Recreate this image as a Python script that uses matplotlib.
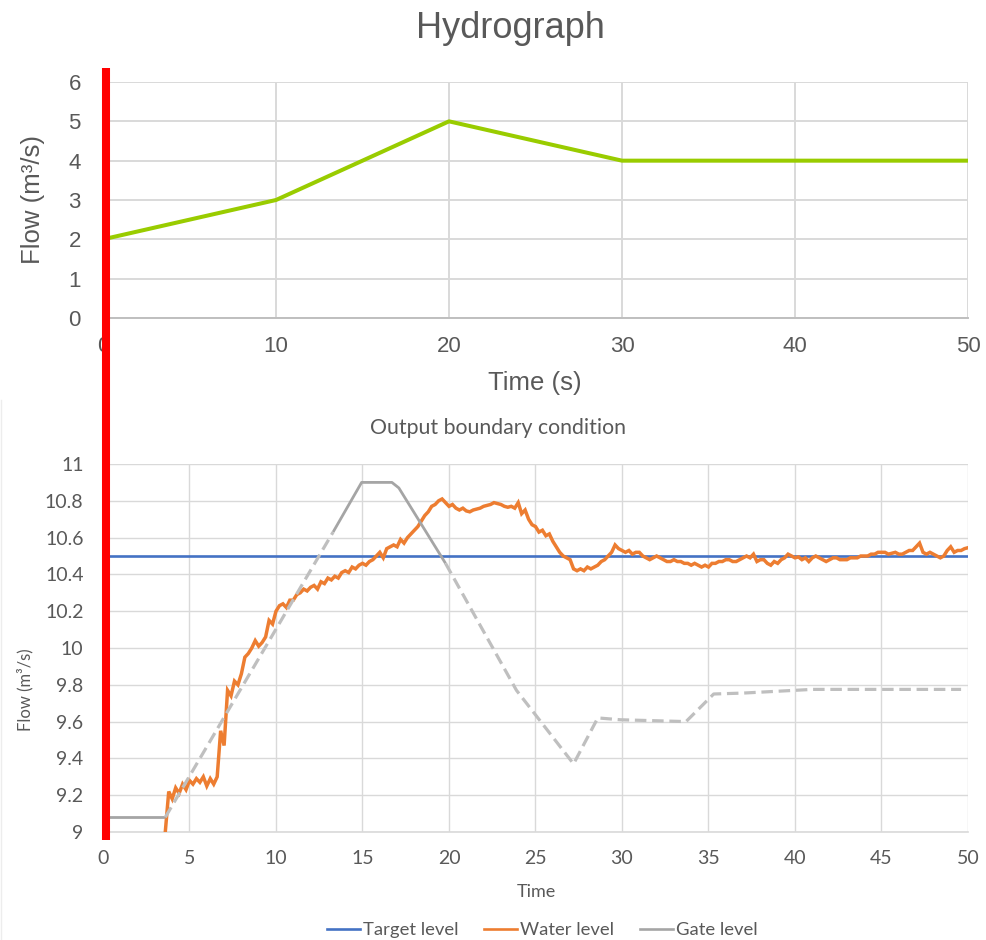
import numpy as np
import matplotlib
matplotlib.use("Agg")
import matplotlib.pyplot as plt
from matplotlib.lines import Line2D

# ---------------- data ----------------
# Hydrograph (top)
hydro_time = [0, 10, 20, 30, 40, 50]
hydro_flow = [2, 3, 5, 4, 4, 4]
top_xticks = [0, 10, 20, 30, 40, 50]
top_yticks = [0, 1, 2, 3, 4, 5, 6]

# Output boundary condition (bottom)
target_time = [0, 50]
target_level = [10.5, 10.5]

gate_time = [0, 3.6, 13.3, 14.95, 16.7, 17.1, 19.8, 23.9, 27.2, 28.6, 29.9,
             33.7, 35.3, 37.0, 41.0, 49.6]
gate_level = [9.08, 9.08, 10.63, 10.90, 10.90, 10.87, 10.46, 9.77, 9.37, 9.62,
              9.61, 9.60, 9.75, 9.755, 9.775, 9.775]
# segment styles of the gate series (index ranges): solid / dashed
gate_solid_segments = [(0, 1), (2, 6)]
gate_dashed_segments = [(1, 2), (6, 15)]

water_start = 3.6
water_step = 0.2
water_level = [
    9.00, 9.22,
    9.18, 9.24, 9.21, 9.26, 9.23,
    9.28, 9.26, 9.29, 9.27, 9.30,
    9.25, 9.29, 9.26, 9.30, 9.55,
    9.47, 9.77, 9.74, 9.82, 9.80,
    9.86, 9.95, 9.97, 10.00, 10.04,
    10.01, 10.03, 10.06, 10.15, 10.13,
    10.20, 10.23, 10.24, 10.22, 10.26,
    10.26, 10.29, 10.30, 10.32, 10.31,
    10.33, 10.34, 10.32, 10.36, 10.35,
    10.38, 10.37, 10.39, 10.38, 10.41,
    10.42, 10.41, 10.44, 10.43, 10.45,
    10.46, 10.45, 10.47, 10.48, 10.50,
    10.52, 10.49, 10.54, 10.55, 10.56,
    10.55, 10.59, 10.57, 10.60, 10.62,
    10.64, 10.66, 10.69, 10.72, 10.74,
    10.77, 10.78, 10.80, 10.81, 10.79,
    10.77, 10.78, 10.76, 10.75, 10.76,
    10.745, 10.74, 10.75, 10.755, 10.76,
    10.77, 10.775, 10.78, 10.79, 10.785,
    10.78, 10.77, 10.765, 10.77, 10.76,
    10.79, 10.73, 10.75, 10.70, 10.67,
    10.66, 10.63, 10.64, 10.61, 10.62,
    10.58, 10.55, 10.52, 10.50, 10.49,
    10.48, 10.43, 10.42, 10.43, 10.42,
    10.44, 10.43, 10.44, 10.45, 10.47,
    10.48, 10.50, 10.52, 10.56, 10.54,
    10.53, 10.52, 10.53, 10.51, 10.52,
    10.52, 10.50, 10.49, 10.48, 10.49,
    10.50, 10.49, 10.48, 10.47, 10.47,
    10.48, 10.47, 10.47, 10.46, 10.46,
    10.45, 10.46, 10.45, 10.44, 10.45,
    10.44, 10.46, 10.46, 10.47, 10.47,
    10.48, 10.48, 10.47, 10.47, 10.48,
    10.49, 10.50, 10.49, 10.51, 10.47,
    10.48, 10.48, 10.46, 10.45, 10.47,
    10.46, 10.48, 10.49, 10.51, 10.50,
    10.49, 10.495, 10.48, 10.49, 10.47,
    10.49, 10.50, 10.49, 10.48, 10.47,
    10.48, 10.49, 10.49, 10.48, 10.48,
    10.48, 10.49, 10.49, 10.49, 10.50,
    10.50, 10.50, 10.51, 10.51, 10.52,
    10.52, 10.52, 10.51, 10.515, 10.52,
    10.51, 10.51, 10.52, 10.53, 10.53,
    10.55, 10.57, 10.52, 10.51, 10.52,
    10.51, 10.50, 10.49, 10.50, 10.53,
    10.55, 10.52, 10.53, 10.53, 10.54,
    10.545,
]
water_time = water_start + water_step * np.arange(len(water_level))

bottom_xticks = [0, 5, 10, 15, 20, 25, 30, 35, 40, 45, 50]
bottom_yticks = [9, 9.2, 9.4, 9.6, 9.8, 10, 10.2, 10.4, 10.6, 10.8, 11]
bottom_yticklabels = ["9", "9.2", "9.4", "9.6", "9.8", "10", "10.2", "10.4",
                      "10.6", "10.8", "11"]
legend_labels = ["Target level", "Water level", "Gate level"]

# ---------------- style ----------------
W, H = 987, 940
TXT = "#595959"
GRID = "#D9D9D9"
FONT_TOP = "Liberation Sans"
FONT_BOT = "Lato"

fig = plt.figure(figsize=(W / 100, H / 100), dpi=100)
fig.patch.set_facecolor("white")


def fx(px):
    return px / W


def fy(py):
    return 1 - py / H


# ---------------- top chart ----------------
ax1 = fig.add_axes([fx(103), fy(318), fx(968) - fx(103), fy(82) - fy(318)])
ax1.plot(hydro_time, hydro_flow, color="#99CC00", lw=2.9, solid_capstyle="butt",
         zorder=3, clip_on=False)
ax1.set_xlim(0, 50)
ax1.set_ylim(0, 6)
ax1.set_xticks(top_xticks)
ax1.set_yticks(top_yticks)
ax1.grid(True, color=GRID, lw=1.4)
ax1.set_axisbelow(True)
for s in ["top", "right"]:
    ax1.spines[s].set_visible(False)
ax1.spines["bottom"].set_color("#BFBFBF")
ax1.spines["bottom"].set_linewidth(1.4)
ax1.spines["left"].set_color("#BFBFBF")
ax1.spines["left"].set_linewidth(1.4)
ax1.tick_params(length=0, labelsize=16, labelcolor=TXT)
ax1.tick_params(axis="y", pad=16)
ax1.tick_params(axis="x", pad=13)
for lab in ax1.get_xticklabels() + ax1.get_yticklabels():
    lab.set_family(FONT_TOP)

fig.text(fx(510), fy(28), "Hydrograph", ha="center", va="center",
         fontsize=26, color=TXT, family=FONT_TOP)
fig.text(fx(535), fy(383), "Time (s)", ha="center", va="center",
         fontsize=18.5, color=TXT, family=FONT_TOP)
fig.text(fx(33), fy(200), "Flow (m³/s)", ha="center", va="center",
         rotation=90, fontsize=18.5, color=TXT, family=FONT_TOP)

# ---------------- bottom chart ----------------
ax2 = fig.add_axes([fx(103), fy(832), fx(968) - fx(103), fy(464) - fy(832)])
ax2.plot(target_time, target_level, color="#4472C4", lw=1.9, zorder=3)
ax2.plot(water_time, water_level, color="#ED7D31", lw=2.5, zorder=4,
         solid_joinstyle="miter")
gt = np.array(gate_time)
gl = np.array(gate_level)
for a, b in gate_solid_segments:
    ax2.plot(gt[a:b + 1], gl[a:b + 1], color="#A5A5A5", lw=2.0, zorder=5,
             solid_capstyle="butt")
for a, b in gate_dashed_segments:
    ax2.plot(gt[a:b + 1], gl[a:b + 1], color="#BFBFBF", lw=2.3, zorder=5,
             dashes=(3.6, 1.8), dash_capstyle="butt")
ax2.set_xlim(0, 50)
ax2.set_ylim(9, 11)
ax2.set_xticks(bottom_xticks)
ax2.set_yticks(bottom_yticks)
ax2.set_yticklabels(bottom_yticklabels)
ax2.grid(True, color=GRID, lw=1.0)
ax2.set_axisbelow(True)
for s in ["top", "right", "left"]:
    ax2.spines[s].set_visible(False)
ax2.spines["bottom"].set_color(GRID)
ax2.spines["bottom"].set_linewidth(1.2)
ax2.tick_params(length=0, labelsize=14, labelcolor=TXT)
ax2.tick_params(axis="y", pad=14)
ax2.tick_params(axis="x", pad=13)
for lab in ax2.get_xticklabels() + ax2.get_yticklabels():
    lab.set_family(FONT_BOT)

fig.text(fx(498), fy(428), "Output boundary condition", ha="center", va="center",
         fontsize=15.3, color=TXT, family=FONT_BOT)
fig.text(fx(536), fy(892), "Time", ha="center", va="center",
         fontsize=13, color=TXT, family=FONT_BOT)
fig.text(fx(25), fy(690), "Flow (m³/s)", ha="center", va="center",
         rotation=90, fontsize=12, color=TXT, family=[FONT_BOT, "DejaVu Sans"])

handles = [Line2D([], [], color="#4472C4", lw=1.9),
           Line2D([], [], color="#ED7D31", lw=1.9),
           Line2D([], [], color="#A5A5A5", lw=1.9)]
leg = fig.legend(handles, legend_labels, loc="center", ncol=3,
                 bbox_to_anchor=(fx(542), fy(930)), frameon=False,
                 prop={"family": FONT_BOT, "size": 13.3}, handlelength=1.8,
                 handletextpad=0.15, columnspacing=1.4)
for t in leg.get_texts():
    t.set_color(TXT)

# image border of the lower chart
fig.add_artist(Line2D([fx(1.5), fx(1.5)], [0, fy(400)], color="#EDEDED", lw=1.0))

# red vertical marker
fig.add_artist(Line2D([fx(106), fx(106)], [fy(840), fy(68)], color="#FF0000",
                      lw=5.8, solid_capstyle="butt", zorder=10))

fig.savefig("out.png", dpi=100, facecolor="white")
